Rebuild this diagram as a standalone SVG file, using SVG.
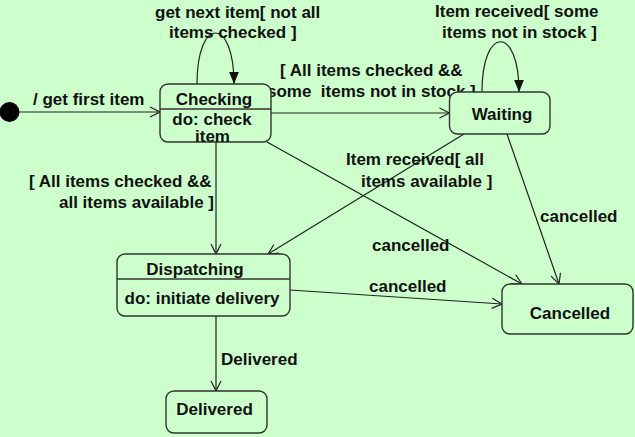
<svg xmlns="http://www.w3.org/2000/svg" width="635" height="437" viewBox="0 0 635 437">
<style>
.bg{fill:#ccffcc}
.node{fill:#ccffcc;stroke:#333;stroke-width:1.4}
.div{stroke:#333;stroke-width:1.4}
.edge{fill:none;stroke:#222;stroke-width:1.2}
text{font-family:"Liberation Sans",Arial,sans-serif;font-weight:bold;font-size:17px;fill:#111}
.c{text-anchor:middle}
</style>
<defs>
<marker id="open" markerUnits="userSpaceOnUse" markerWidth="12" markerHeight="12" refX="10" refY="5" orient="auto" viewBox="-1 -1 12 12">
<path d="M0,0 L10,5 L0,10" fill="none" stroke="#222" stroke-width="1.2"/>
</marker>
<marker id="filled" markerUnits="userSpaceOnUse" markerWidth="13" markerHeight="11" refX="11" refY="4.5" orient="auto" viewBox="0 0 12 9">
<path d="M0,0 L11,4.5 L0,9 Z" fill="#111"/>
</marker>
</defs>
<rect class="bg" x="0" y="0" width="635" height="437"/>
<g id="connectors">
<path class="edge" d="M19,112 L160,112" marker-end="url(#open)"/>
<path class="edge" d="M197,84 C197,16 234,16 234,84" marker-end="url(#filled)"/>
<path class="edge" d="M271,113 L449.5,113" marker-end="url(#open)"/>
<path class="edge" d="M216,142 L216,254" marker-end="url(#open)"/>
<path class="edge" d="M267,142 L522,284" marker-end="url(#open)"/>
<path class="edge" d="M482,92 C482,25 519,25 519,92" marker-end="url(#filled)"/>
<path class="edge" d="M464,134 L268,254" marker-end="url(#open)"/>
<path class="edge" d="M507,134 L559,284" marker-end="url(#open)"/>
<path class="edge" d="M290,290 L502,304" marker-end="url(#open)"/>
<path class="edge" d="M216,316 L216,391" marker-end="url(#open)"/>
<text x="33" y="105">/ get first item</text>
<text x="155" y="18">get next item[ not all</text>
<text x="169" y="38">items checked ]</text>
<text x="280" y="76">[ All items checked &amp;&amp;</text>
<text x="267" y="97" xml:space="preserve">some  items not in stock ]</text>
<text x="435" y="17">Item received[ some</text>
<text x="442" y="38">items not in stock ]</text>
<text x="346" y="165">Item received[ all</text>
<text x="361" y="187">items available ]</text>
<text x="29" y="187">[ All items checked &amp;&amp;</text>
<text x="59" y="208">all items available ]</text>
<text x="540" y="222">cancelled</text>
<text x="372" y="251">cancelled</text>
<text x="369" y="292">cancelled</text>
<text x="221" y="365">Delivered</text>
</g>
<g id="initial">
<circle cx="9.5" cy="112" r="10" fill="#000"/>
</g>
<g id="checking">
<rect class="node" x="160" y="84" width="111" height="58" rx="8"/>
<line class="div" x1="160" y1="109" x2="271" y2="109"/>
<text class="c" x="214" y="105">Checking</text>
<text class="c" x="212" y="125">do: check</text>
<text class="c" x="212.5" y="142">item</text>
</g>
<g id="waiting">
<rect class="node" x="449.5" y="92" width="100.5" height="42" rx="8"/>
<text class="c" x="502" y="120">Waiting</text>
</g>
<g id="dispatching">
<rect class="node" x="117" y="254" width="173" height="62" rx="8"/>
<line class="div" x1="117" y1="279" x2="290" y2="279"/>
<text class="c" x="195" y="275">Dispatching</text>
<text class="c" x="202" y="304">do: initiate delivery</text>
</g>
<g id="cancelled">
<rect class="node" x="502" y="284" width="131" height="50" rx="8"/>
<text class="c" x="570" y="319">Cancelled</text>
</g>
<g id="delivered">
<rect class="node" x="166" y="391" width="101" height="42" rx="8"/>
<text class="c" x="214.5" y="415">Delivered</text>
</g>
</svg>
